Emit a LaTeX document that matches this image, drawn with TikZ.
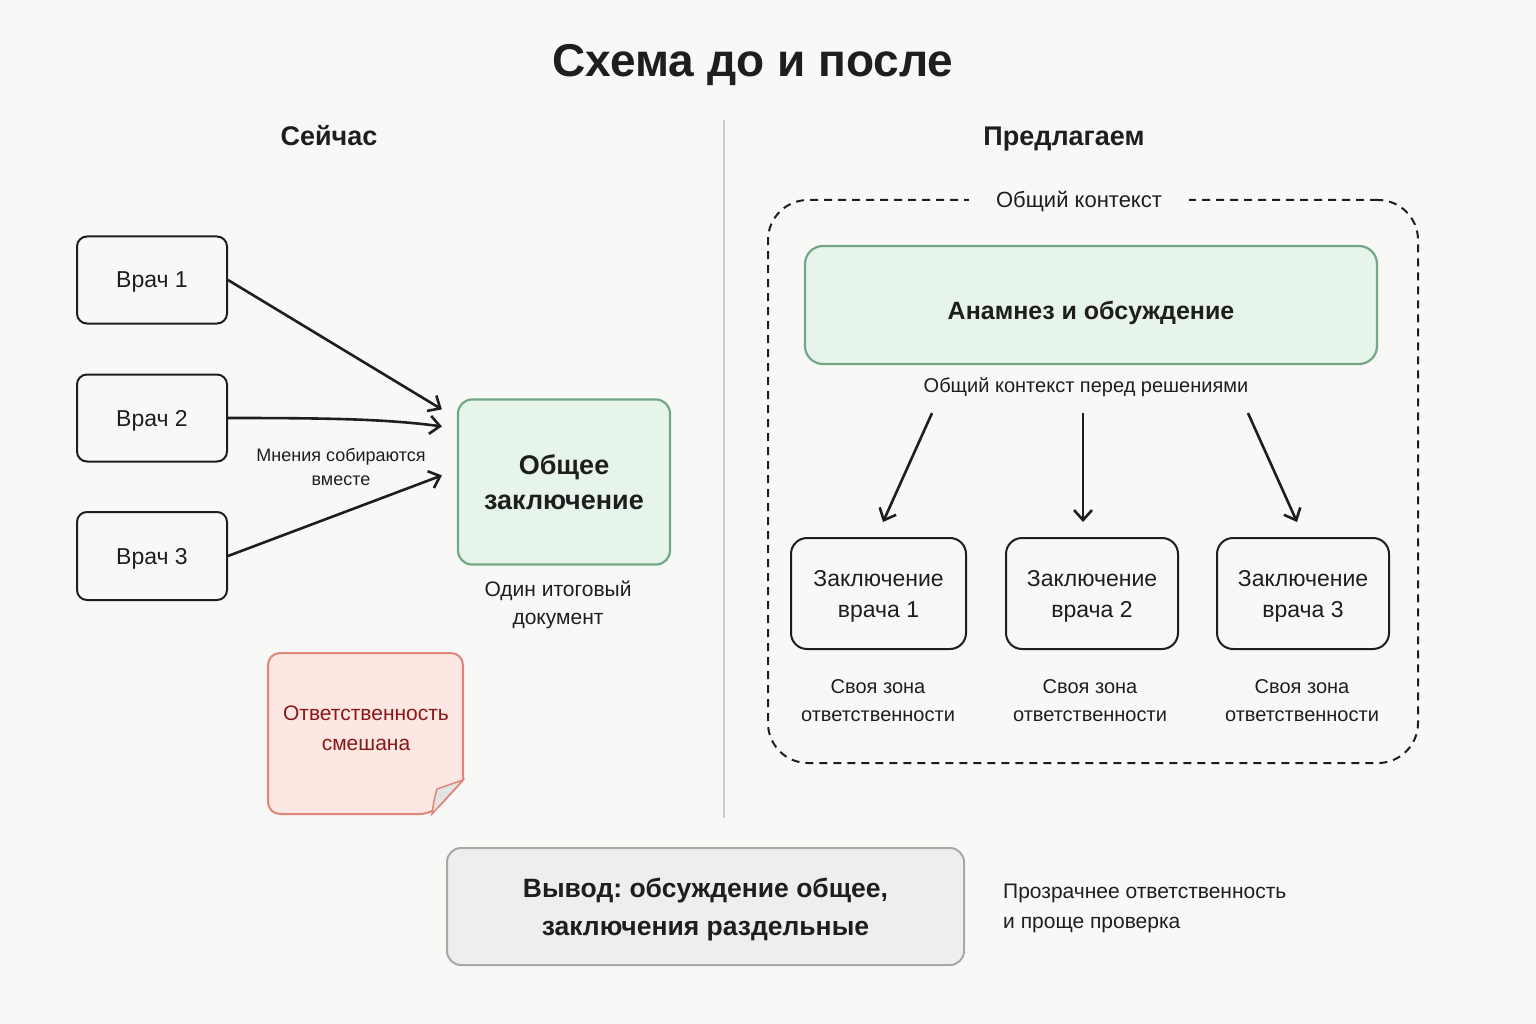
\documentclass[tikz,border=0pt]{standalone}
\usepackage{fontspec}
\setmainfont{Liberation Sans}
\usetikzlibrary{arrows.meta,calc}
\newcommand\setfs[2]{\fontsize{#1}{#2}\selectfont}
\definecolor{bg}{HTML}{F8F8F6}
\definecolor{ink}{HTML}{1E1E1E}
\definecolor{greenfill}{HTML}{E7F4EA}
\definecolor{greenline}{HTML}{72A886}
\definecolor{grayfill}{HTML}{EEEEEE}
\definecolor{grayline}{HTML}{A3ABA5}
\definecolor{pinkfill}{HTML}{FDE7E3}
\definecolor{pinkline}{HTML}{E0857C}
\definecolor{darkred}{HTML}{8A1616}
\definecolor{divider}{HTML}{CCCCCC}
\begin{document}
\begin{tikzpicture}[x=1pt,y=-1pt,
  every node/.style={text=ink},
  doc/.style={draw=ink, line width=2, rounded corners=10, fill=bg, align=center, inner sep=0, text depth=0pt, font=\setfs{23}{31}},
  greenbox/.style={draw=greenline, line width=2.2, fill=greenfill, align=center, inner sep=0, text depth=0pt},
  lbl/.style={align=center, inner sep=0, font=\setfs{20}{28}},
  arr/.style={line width=2.6, draw=ink, -{Straight Barb[length=10pt,width=18pt]}},
  head/.style={font=\setfs{27}{30}\bfseries, inner sep=0, anchor=base}
]
\fill[bg] (0,0) rectangle (1536,1024);
\useasboundingbox (0,0) rectangle (1536,1024);

% title and headers
\node[inner sep=0, anchor=base, font=\setfs{46}{50}\bfseries] (title) at (753,77) {Схема до и после};
\node[head] (hl) at (329,146) {Сейчас};
\node[head] (hr) at (1064,146) {Предлагаем};
\draw[divider, line width=1.5] (724,120) -- (724,818);

% left side
\node[doc, minimum width=150, minimum height=87] (v1) at (152,280) {Врач 1};
\node[doc, minimum width=150, minimum height=87] (v2) at (152,418) {Врач 2};
\node[doc, minimum width=150, minimum height=88] (v3) at (152,556) {Врач 3};
\node[greenbox, rounded corners=14, minimum width=212, minimum height=165, font=\setfs{27}{35}\bfseries] (ob) at (564,482) {Общее\\заключение};
\node[lbl, font=\setfs{18}{24}] (mn) at (341,467) {Мнения собираются\\вместе};
\node[lbl, font=\setfs{21}{28}] (odin) at (558,605) {Один итоговый\\документ};

\draw[arr] (v1.east) -- ([shift={(-15,11)}]ob.north west);
\draw[arr] (v2.east) .. controls (330,418) and (385,419) .. ([shift={(-15,28)}]ob.north west);
\draw[arr] (v3.east) -- ([shift={(-15,77)}]ob.north west);

% sticky note
\draw[pinkline, line width=2, fill=pinkfill, rounded corners=12]
  (463,780) -- (463,653) -- (268,653) -- (268,814) -- (432,814) [sharp corners] -- cycle;
\draw[pinkline, line width=1.5, fill=gray!22] (432,814) .. controls (434,800) .. (437,789) -- (463,780) -- cycle;
\node[lbl, font=\setfs{21}{30}, text=darkred] (resp) at (366,728) {Ответственность\\смешана};

% right side
\node[draw=ink, line width=2, dash pattern=on 8pt off 6pt, rounded corners=40, minimum width=650, minimum height=563, inner sep=0] (ctx) at (1093,481.5) {};
\node[fill=bg, inner xsep=27, inner ysep=2, font=\setfs{22}{26}] (ctxl) at (1079,202) {Общий контекст};
\node[greenbox, rounded corners=18, minimum width=572, minimum height=118, text height=28pt, font=\setfs{25}{30}\bfseries] (an) at (1091,305) {Анамнез и обсуждение};
\node[lbl] (anl) at (1086,387) {Общий контекст перед решениями};

\node[doc, rounded corners=16, minimum width=175, minimum height=111] (z1) at (878.5,593.5) {Заключение\\врача 1};
\node[doc, rounded corners=16, minimum width=172, minimum height=111] (z2) at (1092,593.5) {Заключение\\врача 2};
\node[doc, rounded corners=16, minimum width=172, minimum height=111] (z3) at (1303,593.5) {Заключение\\врача 3};

\draw[arr] ([shift={(-159,48)}]an.south) -- ([shift={(4.5,-15)}]z1.north);
\draw[arr] ([shift={(-8,48)}]an.south) -- ([shift={(-9,-15)}]z2.north);
\draw[arr] ([shift={(157,48)}]an.south) -- ([shift={(-6,-15)}]z3.north);

\node[lbl] (s1) at (878,701) {Своя зона\\ответственности};
\node[lbl] (s2) at (1090,701) {Своя зона\\ответственности};
\node[lbl] (s3) at (1302,701) {Своя зона\\ответственности};

% bottom
\node[draw=grayline, line width=2, fill=grayfill, rounded corners=14, minimum width=517, minimum height=117, align=center, inner sep=0, text depth=0pt, font=\setfs{26.5}{38}\bfseries] (vy) at (705.5,906.5) {Вывод:\ обсуждение общее,\\заключения раздельные};
\node[align=left, inner sep=0, anchor=west, font=\setfs{21}{30}] (pr) at (1003,908) {Прозрачнее ответственность\\и проще проверка};
\end{tikzpicture}
\end{document}
